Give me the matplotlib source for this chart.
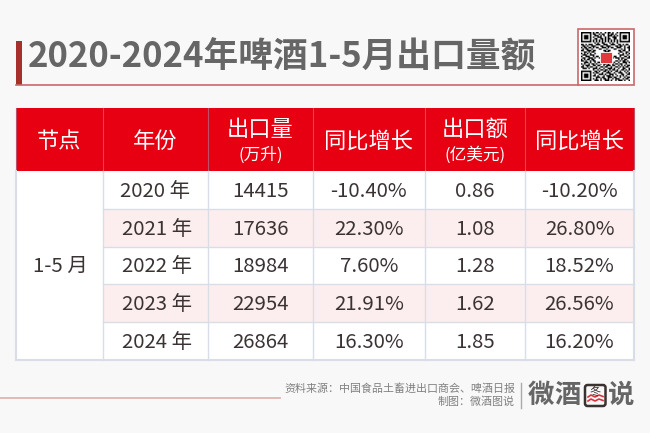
import numpy as np
import matplotlib
matplotlib.use("Agg")
import matplotlib.pyplot as plt
from matplotlib.patches import Rectangle, FancyBboxPatch

plt.rcParams['font.family'] = ['Noto Sans CJK SC', 'DejaVu Sans']

# 表格内容
title = "2020-2024年啤酒1-5月出口量额"
node = "1-5 月"
years = ["2020 年", "2021 年", "2022 年", "2023 年", "2024 年"]
volume = ["14415", "17636", "18984", "22954", "26864"]
volume_yoy = ["-10.40%", "22.30%", "7.60%", "21.91%", "16.30%"]
value = ["0.86", "1.08", "1.28", "1.62", "1.85"]
value_yoy = ["-10.20%", "26.80%", "18.52%", "26.56%", "16.20%"]
source = "资料来源\uff1a中国食品土畜进出口商会、啤酒日报"
maker = "制图\uff1a微酒图说"

# 版面,单位是像素
col_x = [16, 102.5, 208, 312.5, 425, 525, 634]
head_top, head_bot = 108, 171
row_h = (360 - head_bot) / 5
RED = "#e60012"
GRID = "#d9dde8"
TEXT = "#3b3333"
HEAD_FS = 16
SUB_FS = 12
BODY_FS = 14.7

fig = plt.figure(figsize=(6.5, 4.33), dpi=100, facecolor="#f8f8f8")
ax = fig.add_axes([0, 0, 1, 1])
ax.set_xlim(0, 650)
ax.set_ylim(433, 0)
ax.axis("off")


def cx(i):
    return (col_x[i] + col_x[i + 1]) / 2


# 标题
ax.add_patch(Rectangle((16, 41), 6, 44, fc="#a5302c", ec="none"))
ax.plot([16, 578], [85, 85], color="#c9686a", lw=1.2)
ax.text(28, 57.5, title, fontsize=25, fontweight="bold", color="#666666", va="center", ha="left")

# 二维码(示意)
ax.add_patch(Rectangle((577.5, 28.5), 56, 56.5, fc="white", ec="#c9686a", lw=1.2))
qr_rows = [
    "000000001011010010110100100000000",
    "000000001100101100101101000000000",
    "000000000111010100111010100000000",
    "000000001001110010100111000000000",
    "000000000110011010110011000000000",
    "000000001010101010101010100000000",
    "000000001010101010101010100000000",
    "000000000101001100010100100000000",
    "110101110011100111001110011010110",
    "011010011100011001110001101101001",
    "101101101011001110101100111001011",
    "010110010000110001000011000101001",
    "110011101100000110110000011011001",
    "001101011000000011100000001100110",
    "101010100100000100010000010010101",
    "011100111000000011100000001110010",
    "100111001011011001011011001001101",
    "011001110100101110100101110110011",
    "101011011000000101100000010101100",
    "110100101100011010110001101011010",
    "001110100101101001011010010011101",
    "101001011010010110100101101100100",
    "010111001101100101110110010101011",
    "110010110010011011001001101010110",
    "011101001110100100111010010011001",
    "000000001001011011010110100110101",
    "000000000110100110101001101001010",
    "000000001011001001110010011100101",
    "000000000100111010011101000110011",
    "000000001101000101110100101010100",
    "000000000011101100111011001001011",
    "000000001010010110100101110010110",
    "000000000111010011101001011101001",
]
qr = np.array([[int(c) for c in r] for r in qr_rows])
# 三个定位角
finder = np.ones((7, 7), dtype=int)
finder[1:6, 1:6] = 0
finder[2:5, 2:5] = 1
qr[0:7, 0:7] = finder
qr[0:7, -7:] = finder
qr[-7:, 0:7] = finder
ax.imshow(1 - qr, cmap="gray", extent=(581, 630, 81, 32), interpolation="bilinear", aspect="auto", zorder=3)
ax.add_patch(Rectangle((600, 52), 12, 11, fc="#e0383c", ec="white", lw=0.6, zorder=4))
ax.set_xlim(0, 650)
ax.set_ylim(433, 0)

# 表头和底色
ax.add_patch(Rectangle((col_x[0], head_top), col_x[-1] - col_x[0], head_bot - head_top, fc=RED, ec="none"))
ax.add_patch(Rectangle((col_x[0], head_bot), col_x[-1] - col_x[0], 5 * row_h, fc="white", ec="none"))

# 隔行底色
for i in [1, 3]:
    y = head_bot + i * row_h
    ax.add_patch(Rectangle((col_x[1], y), col_x[-1] - col_x[1], row_h, fc="#fceeee", ec="none"))

# 网格线
for x in col_x:
    ax.plot([x, x], [head_top, head_bot], color="#c0506a", lw=0.8)
    lw = 1.5 if x in (col_x[0], col_x[-1]) else 1
    ax.plot([x, x], [head_bot, 360], color=GRID, lw=lw)
ax.plot([col_x[0], col_x[-1]], [360, 360], color=GRID, lw=1.5)
for i in range(1, 5):
    y = head_bot + i * row_h
    ax.plot([col_x[1], col_x[-1]], [y, y], color=GRID, lw=1)

# 表头文字
ax.text(cx(0), 141, "节点", fontsize=HEAD_FS, color="white", ha="center", va="center")
ax.text(cx(1), 141, "年份", fontsize=HEAD_FS, color="white", ha="center", va="center")
ax.text(cx(2), 129, "出口量", fontsize=HEAD_FS, color="white", ha="center", va="center")
ax.text(cx(2), 155, "(万升)", fontsize=SUB_FS, color="white", ha="center", va="center")
ax.text(cx(3), 141, "同比增长", fontsize=HEAD_FS, color="white", ha="center", va="center")
ax.text(cx(4), 129, "出口额", fontsize=HEAD_FS, color="white", ha="center", va="center")
ax.text(cx(4), 155, "(亿美元)", fontsize=SUB_FS, color="white", ha="center", va="center")
ax.text(cx(5), 141, "同比增长", fontsize=HEAD_FS, color="white", ha="center", va="center")

# 表格内容
ax.text(cx(0) + 1.5, head_bot + 2.5 * row_h + 1, node, fontsize=BODY_FS, color=TEXT, ha="center", va="center")
for i in range(5):
    y = head_bot + (i + 0.5) * row_h + 1.5
    for j, col in enumerate([years, volume, volume_yoy, value, value_yoy]):
        dx = 2 if j == 0 and i > 0 else 0
        ax.text(cx(j + 1) + dx, y, col[i], fontsize=BODY_FS, color=TEXT, ha="center", va="center")

# 页脚
ax.plot([0, 280], [397.5, 397.5], color="#e2b4b2", lw=1.3)
ax.text(515, 389, source, fontsize=7.9, color="#808080", ha="right", va="center")
ax.text(515, 402, maker, fontsize=7.9, color="#808080", ha="right", va="center")
ax.plot([521, 521], [383, 408], color="#aaaaaa", lw=1)

# 右下角标志
for x, ch in [(541, "微"), (568, "酒"), (621, "说")]:
    ax.text(x, 395.5, ch, fontsize=19, fontweight="bold", color="#666666", ha="center", va="center")
ax.add_patch(FancyBboxPatch((585, 385), 20.5, 21, boxstyle="round,pad=0,rounding_size=2.5",
                            fc="#f8f8f8", ec="#3a3230", lw=1.8))
ax.text(595.2, 392, "冬", fontsize=8, color="#3a3230", ha="center", va="center")
ax.plot([588, 591, 595, 599, 603], [397, 395, 397, 395, 396.5], color="#d8343a", lw=1.2)
ax.plot([588, 591, 595, 599, 603], [401, 399, 401, 399, 400.5], color="#d8343a", lw=1.2)

fig.savefig("out.png", dpi=100, facecolor=fig.get_facecolor())
